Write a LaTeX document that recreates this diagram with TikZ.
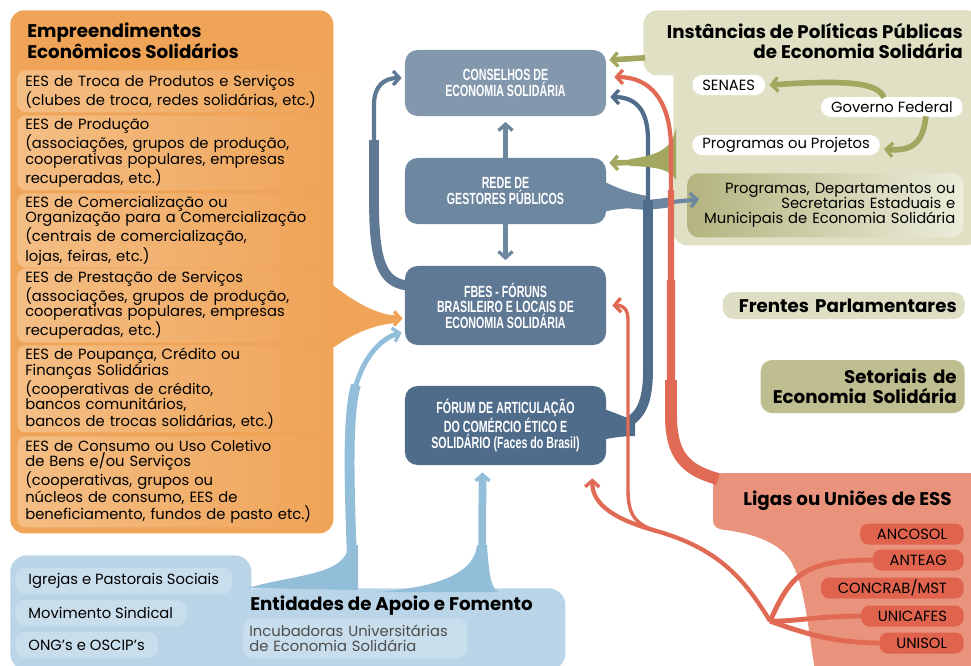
\documentclass[tikz,border=0pt]{standalone}
\usepackage{fontspec}
\setmainfont{Poppins}
\newfontfamily\condfont[FakeStretch=0.66]{Liberation Sans}
\usetikzlibrary{arrows.meta,positioning,calc}
\definecolor{eesfill}{HTML}{EFA458}
\definecolor{eeslight}{HTML}{F4BE85}
\definecolor{consfill}{HTML}{8398AD}
\definecolor{redefill}{HTML}{6E87A0}
\definecolor{fbesfill}{HTML}{5F7995}
\definecolor{forefill}{HTML}{506C8B}
\definecolor{instfill}{HTML}{DFE0C4}
\definecolor{olivearr}{HTML}{A4A75F}
\definecolor{progdark}{HTML}{B3B47F}
\definecolor{proglight}{HTML}{ECEDDB}
\definecolor{frentesfill}{HTML}{DEDEC5}
\definecolor{setorfill}{HTML}{BEBE90}
\definecolor{ligasfill}{HTML}{EA937C}
\definecolor{ligassub}{HTML}{E0634E}
\definecolor{redline}{HTML}{E16A55}
\definecolor{entfill}{HTML}{B9D5E7}
\definecolor{entsub}{HTML}{C9DEEC}
\definecolor{entline}{HTML}{92BEDA}
\newcommand{\txtsz}{\fontsize{10.5}{11}\selectfont}
\newcommand{\ttlsz}{\bfseries\fontsize{13}{14.3}\selectfont}
\newcommand{\capsz}{\condfont\bfseries\fontsize{11.5}{11}\selectfont}
\tikzset{
  >={Straight Barb[length=4.5pt,width=10pt,line width=2.4pt]},
  area/.style={anchor=north west, rounded corners=10pt, inner sep=0pt},
  eessub/.style={anchor=north west, rounded corners=6pt, left color=eeslight, right color=eesfill,
    text width=7.45cm, inner xsep=0.2cm, inner ysep=2pt, align=left, font=\txtsz},
  central/.style={rounded corners=9pt, minimum width=5.025cm, text=white, align=center, font=\capsz},
  pill/.style={fill=white, rounded corners=7pt, minimum height=0.5cm, inner xsep=0.25cm, inner ysep=0pt, font=\txtsz},
  ligsub/.style={anchor=east, fill=ligassub, rounded corners=6pt, minimum height=0.525cm,
    inner xsep=0.42cm, inner ysep=0pt, font=\txtsz},
  entpill/.style={anchor=west, fill=entsub, rounded corners=7pt, minimum height=0.65cm,
    inner xsep=0.33cm, inner ysep=0pt, font=\txtsz},
  heading/.style={inner sep=0pt, font=\ttlsz},
  darkln/.style={draw=fbesfill, line width=3pt},
  foreln/.style={draw=forefill, line width=3pt},
  redeln/.style={draw=redefill, line width=3pt},
  oliveln/.style={draw=olivearr, line width=4pt},
  redln/.style={draw=redline, line width=2.4pt},
  entln/.style={draw=entline, line width=3.5pt},
}

\begin{document}
\begin{tikzpicture}[x=0.025cm, y=-0.025cm]
\useasboundingbox (0,0) rectangle (971,665);

% Empreendimentos Economicos Solidarios
\node[area, fill=eesfill, minimum width=8.075cm, minimum height=13.075cm] (ees) at (10,10) {};
\fill[eesfill] (330,283) .. controls (352,300) and (372,313) .. (396,316) -- (396,323) .. controls (372,325) and (352,334) .. (330,350) -- cycle;
\node[heading, anchor=north west, align=left] (eestitle) at (27,23) {Empreendimentos\\Econômicos Solidários};
\node[eessub, minimum height=1.05cm] (trocas) at (17,70) {EES de Troca de Produtos e Serviços\\(clubes de troca, redes solidárias, etc.)};
\node[eessub, minimum height=1.875cm] (producao) at (17,115) {EES de Produção\\(associações, grupos de produção,\\cooperativas populares, empresas\\recuperadas, etc.)};
\node[eessub, minimum height=1.8cm] (comerc) at (17,193) {EES de Comercialização ou\\Organização para a Comercialização\\(centrais de comercialização,\\lojas, feiras, etc.)};
\node[eessub, minimum height=1.825cm] (servicos) at (17,268) {EES de Prestação de Serviços\\(associações, grupos de produção,\\cooperativas populares, empresas\\recuperadas, etc.)};
\node[eessub, minimum height=2.175cm] (financas) at (17,345) {EES de Poupança, Crédito ou\\Finanças Solidárias\\(cooperativas de crédito,\\bancos comunitários,\\bancos de trocas solidárias, etc.)};
\node[eessub, minimum height=2.275cm] (consumo) at (17,436) {EES de Consumo ou Uso Coletivo\\de Bens e/ou Serviços\\(cooperativas, grupos ou\\núcleos de consumo, EES de\\beneficiamento, fundos de pasto etc.)};

% caixas centrais
\node[central, fill=consfill, minimum height=1.65cm] (cons) at (505.5,83) {CONSELHOS DE\\ECONOMIA SOLIDÁRIA};
\node[central, fill=redefill, minimum height=1.65cm] (rede) at (505.5,191) {REDE DE\\GESTORES PÚBLICOS};
\node[central, fill=fbesfill, minimum height=1.975cm] (fbes) at (505.5,305.5) {FBES - FÓRUNS\\BRASILEIRO E LOCAIS DE\\ECONOMIA SOLIDÁRIA};
\node[central, fill=forefill, minimum height=1.975cm] (fore) at (505.5,425.5) {FÓRUM DE ARTICULAÇÃO\\DO COMÉRCIO ÉTICO E\\SOLIDÁRIO (Faces do Brasil)};

% Instancias de politicas publicas
\node[area, fill=instfill, minimum width=8.425cm, minimum height=1.625cm] (instA) at (643,10) {};
\node[area, fill=instfill, minimum width=7.675cm, minimum height=5.875cm] (instB) at (673,10) {};
\node[heading, anchor=north east, align=right] (insttitle) at (963,23) {Instâncias de Políticas Públicas\\de Economia Solidária};
\node[pill, anchor=west] (senaes) at (692,85) {SENAES};
\node[pill, anchor=east] (gov) at (963,107) {Governo Federal};
\node[pill, anchor=west] (projetos) at (692,145) {Programas ou Projetos};
\node[anchor=north west, rounded corners=8pt, left color=progdark, right color=proglight, minimum width=6.9cm,
  minimum height=1.6cm, text width=6.5cm, inner xsep=0.2cm, align=right, font=\txtsz] (progdep) at (687,173)
  {Programas, Departamentos ou\\Secretarias Estaduais e\\Municipais de Economia Solidária};
\node[anchor=east, fill=frentesfill, rounded corners=8pt, minimum height=0.675cm, text width=5.65cm,
  inner xsep=0.2cm, align=right, font=\ttlsz] (frentes) at (965,305.5) {Frentes Parlamentares};
\node[anchor=east, fill=setorfill, rounded corners=8pt, minimum height=1.325cm, text width=4.7cm,
  inner xsep=0.2cm, align=right, font=\ttlsz] (setor) at (965,386.5) {Setoriais de\hspace*{0.35em}\\Economia Solidária};

% Ligas ou Unioes
\coordinate (ligas) at (713,473);
\fill[ligasfill] (713,520) -- (713,485) .. controls (713,476) and (716,473) .. (725,473) -- (985,473) -- (985,670)
  -- (815,670) .. controls (808,630) and (805,580) .. (788,557) .. controls (772,537) and (740,532) .. (725,530)
  .. controls (716,529) and (713,526) .. (713,520) -- cycle;
\node[heading, anchor=north east] (ligastitle) at (952,491) {Ligas ou Uniões de ESS};
\node[ligsub] (ancosol) at (964,534) {ANCOSOL};
\node[ligsub] (anteag) at (964,560) {ANTEAG};
\node[ligsub] (concrab) at (964,588) {CONCRAB/MST};
\node[ligsub] (unicafes) at (964,616) {UNICAFES};
\node[ligsub] (unisol) at (964,643) {UNISOL};

% Entidades de apoio
\node[area, fill=entfill, minimum width=6.025cm, minimum height=2.875cm, rounded corners=12pt] (entA) at (10,555) {};
\node[area, fill=entfill, minimum width=8.125cm, minimum height=2.05cm, rounded corners=12pt] (entB) at (240,588) {};
\node[entpill] (igrejas) at (15,581) {Igrejas e Pastorais Sociais};
\node[entpill] (sindical) at (15,613) {Movimento Sindical};
\node[entpill] (ongs) at (15,645) {ONG’s e OSCIP’s};
\node[heading, anchor=west] (enttitle) at (250,606) {Entidades de Apoio e Fomento};
\node[anchor=north west, fill=entsub, rounded corners=7pt, minimum width=5.475cm, minimum height=1cm,
  text width=5.3cm, inner xsep=0.15cm, inner ysep=0pt, align=left, text=black!70, font=\txtsz] (incub) at (243,618)
  {Incubadoras Universitárias\\de Economia Solidária};

% conexoes
\draw[eesfill, line width=5pt, ->] ($(ees.east)+(0,46)$) -- ($(fbes.west)+(-2,13)$);

\draw[redeln, ->] (rede.north) -- ([yshift=-4pt]cons.south);
\draw[redeln, ->] (rede.south) -- ([yshift=4pt]fbes.north);
\fill[redefill] (603,181) .. controls (615,187) and (628,193) .. (648,196) -- (648,207) .. controls (628,208) and (615,209) .. (603,212) -- cycle;
\draw[redeln, line width=7pt] ($(rede.east)+(-3,5)$) .. controls (635,208) and (650,205) .. (672,202);
\draw[redeln, ->] ($(rede.east)+(-3,5)$) .. controls (635,208) and (650,205) .. (672,202) -- ($(progdep.west)+(12,-6)$);

\draw[darkln, line width=7pt] ($(fbes.west)+(2,-20)$) .. controls (382,282) and (374,262) .. (374,200) -- (374,140);
\draw[darkln, ->] ($(fbes.west)+(2,-20)$) .. controls (382,282) and (374,262) .. (374,200) -- (374,105) .. controls (374,86) and (384,78) .. ($(cons.west)+(-3,-5)$);

\fill[forefill] (600,408) .. controls (615,412) and (625,418) .. (635,420) -- (635,436) .. controls (622,436) and (612,438) .. (600,440) -- cycle;
\draw[foreln, line width=7pt] ($(fore.east)+(-3,2)$) .. controls (640,427) and (648,405) .. (648,370) -- (648,200);
\draw[foreln, ->] ($(fore.east)+(-3,2)$) .. controls (640,427) and (648,405) .. (648,370) -- (648,140) .. controls (648,110) and (636,97) .. ($(cons.east)+(4,14)$);

\draw[oliveln, ->] ($(instA.west)+(2,15)$) -- ($(cons.east)+(3,-23)$);
\fill[olivearr] (676,128) .. controls (672,148) and (660,155) .. (630,159) -- (630,166) .. controls (660,167) and (670,170) .. (676,180) -- cycle;
\draw[oliveln, ->] ($(instB.west)+(2,35)$) .. controls (650,162) .. ($(rede.east)+(3,-28)$);
\draw[oliveln, ->] ($(gov.north)+(-8,1)$) .. controls (878,82) and (845,80) .. ($(senaes.east)+(4,0)$);
\draw[oliveln, ->] ($(gov.south)+(34,-1)$) .. controls (923,140) and (915,152) .. ($(projetos.east)+(4,4)$);

\draw[redln, line width=8.5pt] ($(ligas)+(5,6)$) .. controls (685,470) and (671,455) .. (671,415) -- (671,380);
\draw[redln, line width=6pt] ($(ligas)+(5,6)$) .. controls (685,470) and (671,455) .. (671,415) -- (671,280);
\draw[redln, line width=4.5pt] ($(ligas)+(5,6)$) .. controls (685,470) and (671,455) .. (671,415) -- (671,190);
\draw[redln, line width=3pt, ->] ($(ligas)+(5,6)$) .. controls (685,470) and (671,455) .. (671,415) -- (671,150) .. controls (671,100) and (650,77) .. ($(cons.east)+(8,-6)$);

\coordinate (hub) at (770,621);
\draw[redln, line width=3.5pt] (anteag.west) .. controls (800,560) and (790,578) .. (hub);
\draw[redln, line width=3.5pt] (unicafes.west) .. controls (820,616) and (790,622) .. (hub);
\draw[redln, line width=3.5pt] (unisol.west) .. controls (830,643) and (795,630) .. (hub);
\draw[redln, line width=3pt, ->] (hub) .. controls (745,580) and (720,550) .. (660,532) .. controls (615,520) and (592,505) .. ($(fore.south east)+(-14,13)$);
\draw[redln, ->] (hub) .. controls (745,580) and (720,550) .. (660,532) .. controls (635,525) and (628,515) .. (628,490) -- (628,320) .. controls (628,310) and (624,305) .. ($(fbes.east)+(6,0)$);

\fill[entline] (248,588) .. controls (295,574) and (345,576) .. (349,545) -- (358,545) -- (358,590) -- cycle;
\draw[entln, line width=7pt] ($(entB.north west)+(113,2)$) .. controls (351,520) and (345,420) .. (356,385);
\draw[entln, ->] ($(entB.north west)+(113,2)$) .. controls (351,520) and (345,420) .. (356,385) .. controls (365,355) and (382,338) .. ($(fbes.west)+(-3,27)$);
\fill[entline] (378,592) .. controls (425,588) and (474,578) .. (477,545) -- (487,545) .. controls (489,578) and (492,588) .. (498,592) -- cycle;
\draw[entln, line width=5.5pt, ->] ($(entB.north west)+(242,2)$) -- ($(fore.south)+(-23,7)$);
\end{tikzpicture}
\end{document}
